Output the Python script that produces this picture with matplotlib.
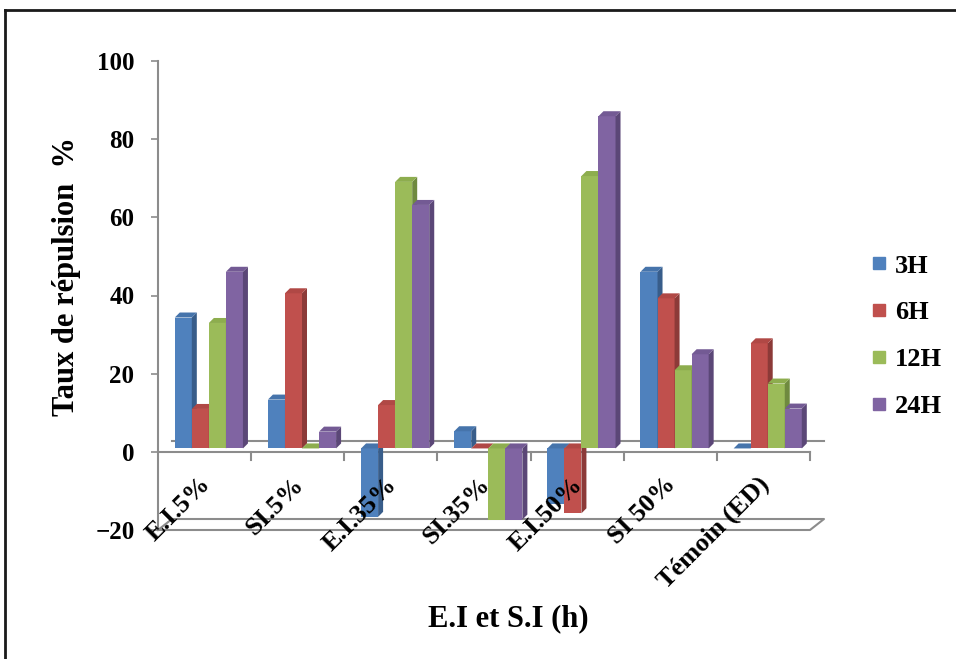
import matplotlib.pyplot as plt
from matplotlib.patches import Polygon
from matplotlib.lines import Line2D
import numpy as np

plt.rcParams['font.family'] = ['Liberation Serif', 'DejaVu Serif']
plt.rcParams['font.weight'] = 'bold'

# Repulsion rate (%) per treatment and exposure time
categories = ['E.I.5%', 'SI.5%', 'E.I.35%', 'SI.35%', 'E.I.50%', 'SI 50%', 'Témoin (ED)']
series = ['3H', '6H', '12H', '24H']
h3 = [33.5, 12.5, -17.5, 4.4, -14.3, 45.2, 0]
h6 = [10.1, 39.7, 11.1, 0, -16.6, 38.4, 26.9]
h12 = [32.1, 0, 68.2, -18.2, 69.7, 20.0, 16.6]
h24 = [45.2, 4.3, 62.3, -18.2, 85.0, 24.1, 10.2]
yticks = [-20, 0, 20, 40, 60, 80, 100]

front_colors = ['#4F81BD', '#C0504D', '#9BBB59', '#8064A2']
side_colors = ['#385D8A', '#8C3A38', '#6F8A3F', '#5B4777']
top_colors = ['#4674AB', '#B04845', '#8DAD4E', '#735A94']
gray = '#8C8C8C'

W, H = 956, 659
fig = plt.figure(figsize=(W / 100, H / 100), dpi=100)
ax = fig.add_axes([158 / W, 1 - 530 / H, 652 / W, 469 / H])
ax.set_xlim(0, len(categories))
ax.set_ylim(yticks[0], yticks[-1])

# pixel sizes expressed in data units, for the fake 3D depth
pos = ax.get_position()
px_x = len(categories) / (pos.width * W)
px_y = (yticks[-1] - yticks[0]) / (pos.height * H)

bar_w = 0.183
first = 0.18
dx, dy = 5 * px_x, 5 * px_y
lift = 3.4 * px_y

for j, vals in enumerate([h3, h6, h12, h24]):
    vals = np.array(vals, dtype=float)
    xs = np.arange(len(categories)) + first + j * bar_w
    lo = np.minimum(vals, 0) + lift
    hi = np.maximum(vals, 0) + lift
    ax.bar(xs, hi - lo, bottom=lo, width=bar_w, align='edge',
           color=front_colors[j], linewidth=0, zorder=3 + j)
    for x0, a, b in zip(xs, lo, hi):
        x1 = x0 + bar_w
        ax.add_patch(Polygon([(x1, a), (x1, b), (x1 + dx, b + dy), (x1 + dx, a + dy)],
                             closed=True, fc=side_colors[j], ec='none', zorder=3.5 + j))
        ax.add_patch(Polygon([(x0, b), (x1, b), (x1 + dx, b + dy), (x0 + dx, b + dy)],
                             closed=True, fc=top_colors[j], ec='none', zorder=3.5 + j))

# floor at 0 and base plane at -20
n = len(categories)
bx, by = 14 * px_x, 11 * px_y
ax.plot([0, n], [0, 0], color=gray, lw=1.5, zorder=1, clip_on=False)
ax.plot([bx, n + bx], [by, by], color=gray, lw=1.5, zorder=1, clip_on=False)
y0 = yticks[0]
ax.plot([0, n, n + bx, bx, 0], [y0, y0, y0 + by, y0 + by, y0],
        color=gray, lw=1.5, zorder=1, clip_on=False)
for k in range(1, n + 1):
    ax.plot([k, k], [0, -8 * px_y], color=gray, lw=1.5, zorder=1, clip_on=False)

for side in ['top', 'right', 'bottom']:
    ax.spines[side].set_visible(False)
ax.spines['left'].set_color(gray)
ax.spines['left'].set_linewidth(1.5)
ax.set_yticks(yticks)
ax.set_xticks([])
ax.tick_params(axis='y', length=5, width=1.2, color=gray, pad=12, labelsize=18)
for lab in ax.get_yticklabels():
    lab.set_fontweight('bold')

for i, cat in enumerate(categories):
    ax.annotate(cat, xy=(i + 0.5, 0), xytext=(-6, -21), textcoords='offset pixels',
                rotation=45, rotation_mode='anchor', ha='right', va='top',
                fontsize=19, fontweight='bold', annotation_clip=False, zorder=10)

fig.text(67 / W, 1 - 277 / H, 'Taux de répulsion  %', rotation=90,
         ha='center', va='center', fontsize=22, fontweight='bold')
fig.text(508 / W, 1 - 626 / H, 'E.I et S.I (h)', ha='center', va='baseline',
         fontsize=22, fontweight='bold')

handles = [Line2D([], [], marker='s', ls='none', ms=8, mfc=c, mec=c) for c in front_colors]
fig.legend(handles, series, loc='center left', bbox_to_anchor=(845 / W, 1 - 336 / H),
           frameon=False, handletextpad=0.2, labelspacing=0.88,
           handlelength=0.8, prop={'weight': 'bold', 'size': 19})

# outer frame (left and top edges)
fig.add_artist(Line2D([5 / W, 5 / W], [0, 1 - 10 / H], color='#1a1a1a', lw=2))
fig.add_artist(Line2D([5 / W, 1], [1 - 10 / H, 1 - 10 / H], color='#1a1a1a', lw=2))

fig.savefig('out.png', dpi=100)
